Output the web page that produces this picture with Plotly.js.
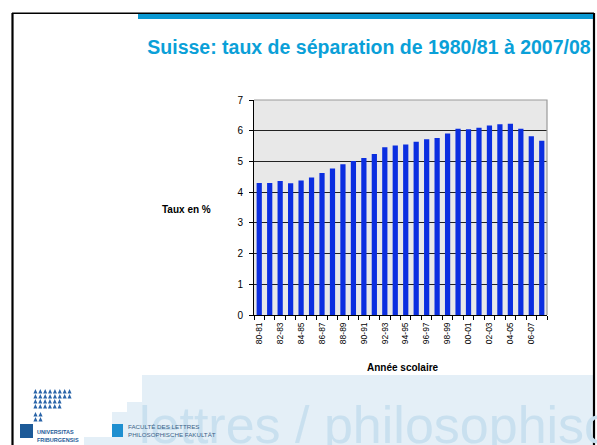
<!DOCTYPE html>
<html>
<head>
<meta charset="utf-8">
<script src="https://cdn.plot.ly/plotly-3.0.1.min.js"></script>
<style>
html,body{margin:0;padding:0;background:#fff;}
#chart{width:597px;height:445px;}
</style>
</head>
<body>
<div id="chart"></div>
<script>
// ---- data ----
var categories = ["80-81","81-82","82-83","83-84","84-85","85-86","86-87","87-88","88-89","89-90",
                  "90-91","91-92","92-93","93-94","94-95","95-96","96-97","97-98","98-99","99-00",
                  "00-01","01-02","02-03","03-04","04-05","05-06","06-07","07-08"];
var taux = [4.30,4.30,4.36,4.29,4.38,4.48,4.62,4.77,4.91,5.01,
            5.11,5.24,5.46,5.52,5.55,5.64,5.72,5.76,5.91,6.06,
            6.05,6.10,6.17,6.21,6.23,6.06,5.82,5.67];
var tickLabels = categories.map(function(c,i){ return i % 2 === 0 ? c : ""; });
var yTicks = [0,1,2,3,4,5,6,7];

// ---- layout helpers (decoration only: pixel -> paper) ----
var L = 254, R = 547, T = 100, B = 315;
function PX(x){ return (x - L) / (R - L); }
function PY(y){ return (B - y) / (B - T); }
function rect(x0,y0,x1,y1,color,layer){
  return {type:"rect", xref:"paper", yref:"paper", x0:PX(x0), x1:PX(x1), y0:PY(y1), y1:PY(y0),
          fillcolor:color, line:{width:0}, layer:layer||"below"};
}
function line(x0,y0,x1,y1,color,w){
  return {type:"line", xref:"paper", yref:"paper", x0:PX(x0), x1:PX(x1), y0:PY(y0), y1:PY(y1),
          line:{color:color, width:w}, layer:"below"};
}
function triRow(x, y, w, h){
  var n = Math.round(w / 4.9), tw = w / n, p = "";
  for (var i = 0; i < n; i++){
    var a = x + i*tw;
    p += "M" + PX(a+0.4) + "," + PY(y+h) + " L" + PX(a+tw/2) + "," + PY(y) + " L" + PX(a+tw-0.4) + "," + PY(y+h) + " Z ";
  }
  return {type:"path", xref:"paper", yref:"paper", path:p, fillcolor:"#2a64a8", line:{width:0}, layer:"below"};
}

var shapes = [
  // light watermark band
  rect(142,375,593,445,"#e4eff7"),
  rect(127,402,142,445,"#e4eff7"),
  rect(112,412,127,445,"#e4eff7"),
  rect(84,437,112,445,"#e4eff7"),
  // frame
  line(12.5,13,12.5,445,"#000",2.2),
  line(12,13.2,594,13.2,"#000",1.6),
  line(594,13,594,445,"#000",2.2),
  rect(138,14,593,19,"#0a98d2"),
  // logo
  triRow(33,389,39,4.5), triRow(33,394,39,4.5), triRow(33,399,29,4.5), triRow(33,404,29,4.5),
  triRow(33,412,10,4.5), triRow(33,417,10,4.5),
  rect(20,424,33,438,"#1d5a98"),
  rect(112,424,123,437,"#1e8fd0"),
  // plot border top/right (gray)
  {type:"path", xref:"paper", yref:"paper", path:"M0,1 L1,1 L1,0", line:{color:"#9a9a9a", width:1.2}, layer:"above"}
];

var FONT = "Liberation Sans, Arial, Helvetica, sans-serif";

var annotations = [
  {xref:"paper", yref:"paper", x:PX(137), y:PY(425), xanchor:"left", yanchor:"middle", showarrow:false,
   text:"lettres / philosophisc",
   font:{family:FONT, size:52, color:"#c9e0ef"}},
  {xref:"paper", yref:"paper", x:PX(186), y:PY(209), xanchor:"center", yanchor:"middle", showarrow:false,
   text:"Taux en %", font:{family:FONT, size:10, color:"#000", weight:"bold"}},
  {xref:"paper", yref:"paper", x:PX(403), y:PY(367), xanchor:"center", yanchor:"middle", showarrow:false,
   text:"Année scolaire", font:{family:FONT, size:10, color:"#000", weight:"bold"}},
  {xref:"paper", yref:"paper", x:PX(35), y:PY(432), xanchor:"left", yanchor:"middle", showarrow:false,
   text:"UNIVERSITAS", font:{family:FONT, size:5.5, color:"#1d5a98", weight:"bold"}},
  {xref:"paper", yref:"paper", x:PX(35), y:PY(440), xanchor:"left", yanchor:"middle", showarrow:false,
   text:"FRIBURGENSIS", font:{family:FONT, size:5.5, color:"#1d5a98", weight:"bold"}},
  {xref:"paper", yref:"paper", x:PX(126), y:PY(426.5), xanchor:"left", yanchor:"middle", showarrow:false,
   text:"FACULTÉ DES LETTRES", font:{family:FONT, size:6.2, color:"#3a5f88"}},
  {xref:"paper", yref:"paper", x:PX(126), y:PY(434), xanchor:"left", yanchor:"middle", showarrow:false,
   text:"PHILOSOPHISCHE FAKULTÄT", font:{family:FONT, size:6.2, color:"#3a5f88"}},
  {xref:"paper", yref:"paper", x:PX(512), y:PY(447), xanchor:"left", yanchor:"middle", showarrow:false,
   text:"Prof. Dr. Gérard Pirou", font:{family:FONT, size:8, color:"#2a80d0"}}
];

var trace = {
  type:"bar", x:categories, y:taux,
  marker:{color:"#0b2ee0", line:{width:0}},
  hoverinfo:"skip"
};

var layout = {
  width:597, height:445,
  margin:{l:L, r:597-R, t:T, b:445-B, pad:0},
  paper_bgcolor:"#ffffff",
  plot_bgcolor:"#e8e8e8",
  showlegend:false,
  bargap:0.5,
  title:{text:"Suisse: taux de séparation de 1980/81 à 2007/08",
         xref:"container", yref:"container", x:369/597, y:1-47/445, xanchor:"center", yanchor:"middle",
         font:{family:FONT, size:19.5, color:"#0aa0d8", weight:"bold"}},
  xaxis:{type:"category", tickvals:categories, ticktext:tickLabels, tickson:"boundaries",
         ticks:"outside", ticklen:4, tickcolor:"#000", tickwidth:1, tickangle:-90,
         tickfont:{family:FONT, size:8.5, color:"#000"}, ticklabelstandoff:3,
         showline:true, linecolor:"#000", linewidth:1, showgrid:false, zeroline:false,
         range:[-0.5, categories.length-0.5], fixedrange:true},
  yaxis:{range:[0,7], tickvals:yTicks, ticks:"outside", ticklen:4, tickcolor:"#000",
         tickfont:{family:FONT, size:10, color:"#000"}, ticklabelstandoff:4,
         showline:true, linecolor:"#000", linewidth:1,
         showgrid:true, gridcolor:"#222", gridwidth:1, zeroline:false, fixedrange:true},
  shapes:shapes,
  annotations:annotations
};

Plotly.newPlot("chart", [trace], layout, {displayModeBar:false, staticPlot:true});
</script>
</body>
</html>
